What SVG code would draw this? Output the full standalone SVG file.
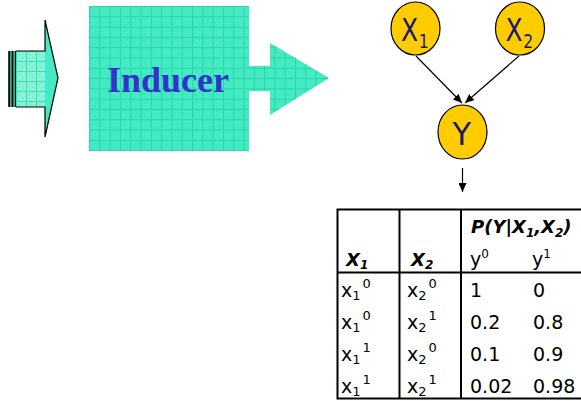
<svg xmlns="http://www.w3.org/2000/svg" width="581" height="401" viewBox="0 0 581 401">
<style>
.node{fill:#FFCC00;stroke:#000;stroke-width:1.2}
.nt{font-family:"DejaVu Sans",Verdana,sans-serif;fill:#1a1a6a}
.edge{stroke:#000;stroke-width:1.2;fill:none}
.tl{stroke:#000;stroke-width:2;fill:none}
.tt{font-family:"DejaVu Sans",Verdana,sans-serif;font-size:19px;fill:#000}
.th{font-family:"DejaVu Sans",Verdana,sans-serif;font-size:18px;font-weight:bold;font-style:italic;fill:#000}
.sb{font-size:13px}
</style>
<defs>
<pattern id="grid" patternUnits="userSpaceOnUse" x="89" y="6" width="10.3" height="10.3">
<rect width="10.3" height="10.3" fill="#46EAC2"/>
<path d="M0,0.5H10.3M0.5,0V10.3" stroke="#22D8A8" stroke-width="1"/>
</pattern>
<pattern id="grid2" patternUnits="userSpaceOnUse" x="16" y="51" width="10" height="10">
<rect width="10" height="10" fill="#86F2D8"/>
<path d="M0,0.5H10M0.5,0V10" stroke="#40DDB4" stroke-width="1"/>
<rect x="3" y="3" width="1" height="1" fill="#5AE6C4"/><rect x="6" y="6" width="1" height="1" fill="#5AE6C4"/>
</pattern>
<marker id="ah" markerUnits="userSpaceOnUse" markerWidth="10" markerHeight="8" refX="9" refY="4" orient="auto">
<path d="M0,0 L9,4 L0,8 Z" fill="#000"/>
</marker>
</defs>

<g id="input-arrow">
<rect x="8.5" y="51" width="7.5" height="56" fill="#2BB894"/>
<rect x="8.3" y="51" width="1.7" height="56" fill="#000"/>
<rect x="11.7" y="51" width="1.6" height="56" fill="#000"/>
<rect x="15" y="51" width="1.2" height="56" fill="#000"/>
<rect x="16" y="51" width="29" height="56" fill="url(#grid2)"/>
<path d="M45,51 V20 L58,78 L45,137 V107 Z" fill="#46EAC2"/>
<path d="M16,51 H45 V20 L58,78 L45,137 V107 H16" fill="none" stroke="#000" stroke-width="1.2"/>
</g>

<g id="inducer">
<path d="M89,6 H249 V66 H270 V43 L329,78 L270,115 V91 H249 V151 H89 Z" fill="url(#grid)"/>
<text x="107" y="92" font-family="'Liberation Serif','Times New Roman',serif" font-weight="bold" font-size="36" fill="#3333CC">Inducer</text>
</g>

<g id="connectors">
<line class="edge" x1="416" y1="56" x2="462" y2="103" marker-end="url(#ah)"/>
<line class="edge" x1="519" y1="56" x2="465" y2="103" marker-end="url(#ah)"/>
<line class="edge" x1="462.5" y1="168" x2="462.5" y2="192" marker-end="url(#ah)"/>
</g>

<g id="node-X1">
<ellipse class="node" cx="415.5" cy="28.5" rx="24.5" ry="26.5"/>
<text class="nt" transform="translate(401,41) scale(0.78,1)" font-size="32">X<tspan font-size="20" dy="7" dx="1">1</tspan></text>
</g>
<g id="node-X2">
<ellipse class="node" cx="520" cy="28.5" rx="24.5" ry="26.5"/>
<text class="nt" transform="translate(505.5,41) scale(0.78,1)" font-size="32">X<tspan font-size="20" dy="7" dx="1">2</tspan></text>
</g>
<g id="node-Y">
<ellipse class="node" cx="462.5" cy="132" rx="24.5" ry="27"/>
<text class="nt" transform="translate(452.5,145) scale(0.95,1)" font-size="32">Y</text>
</g>

<g id="cpt">
<rect class="tl" x="337.5" y="209.5" width="260" height="189"/>
<line class="tl" x1="399.5" y1="209" x2="399.5" y2="399"/>
<line class="tl" x1="461" y1="209" x2="461" y2="399"/>
<line class="tl" x1="337" y1="272.5" x2="581" y2="272.5"/>

<text class="th" x="471" y="233">P(Y|X<tspan font-size="12" dy="4">1</tspan><tspan dy="-4">,X</tspan><tspan font-size="12" dy="4">2</tspan><tspan dy="-4">)</tspan></text>
<text class="th" x="346" y="266">X<tspan font-size="12" dy="3">1</tspan></text>
<text class="th" x="411" y="266">X<tspan font-size="12" dy="3">2</tspan></text>
<text class="tt" x="470" y="266">y<tspan font-size="12" dy="-8">0</tspan></text>
<text class="tt" x="532" y="266">y<tspan font-size="12" dy="-8">1</tspan></text>

<text class="tt" x="341" y="297">x<tspan class="sb" dy="3">1</tspan><tspan class="sb" dx="2" dy="-12">0</tspan></text>
<text class="tt" x="407" y="297">x<tspan class="sb" dy="3">2</tspan><tspan class="sb" dx="2" dy="-12">0</tspan></text>
<text class="tt" x="470" y="297">1</text>
<text class="tt" x="533" y="297">0</text>

<text class="tt" x="341" y="329">x<tspan class="sb" dy="3">1</tspan><tspan class="sb" dx="2" dy="-12">0</tspan></text>
<text class="tt" x="407" y="329">x<tspan class="sb" dy="3">2</tspan><tspan class="sb" dx="2" dy="-12">1</tspan></text>
<text class="tt" x="470" y="329">0.2</text>
<text class="tt" x="533" y="329">0.8</text>

<text class="tt" x="341" y="361">x<tspan class="sb" dy="3">1</tspan><tspan class="sb" dx="2" dy="-12">1</tspan></text>
<text class="tt" x="407" y="361">x<tspan class="sb" dy="3">2</tspan><tspan class="sb" dx="2" dy="-12">0</tspan></text>
<text class="tt" x="470" y="361">0.1</text>
<text class="tt" x="533" y="361">0.9</text>

<text class="tt" x="341" y="393">x<tspan class="sb" dy="3">1</tspan><tspan class="sb" dx="2" dy="-12">1</tspan></text>
<text class="tt" x="407" y="393">x<tspan class="sb" dy="3">2</tspan><tspan class="sb" dx="2" dy="-12">1</tspan></text>
<text class="tt" x="470" y="393">0.02</text>
<text class="tt" x="533" y="393">0.98</text>
</g>
</svg>
